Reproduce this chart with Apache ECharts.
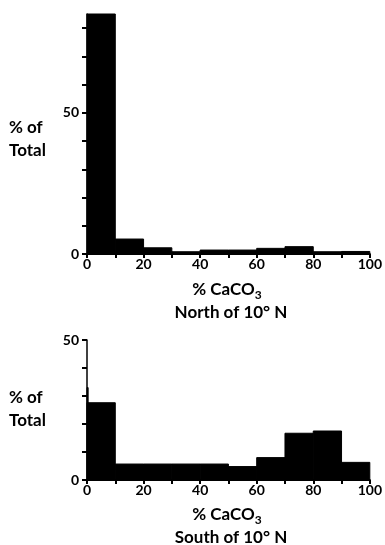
<!DOCTYPE html>
<html>
  <head>
    <meta charset="utf-8">
    <title>CaCO3 histograms</title>
    <style>
    html,body,#chart {
      margin: 0;
      padding: 0;
      width: 385px;
      height: 545px;
      background: #fff;
    }
    </style>
  </head>
  <body>
    <div id="chart"></div>
    <script src="https://cdn.jsdelivr.net/npm/echarts@6/dist/echarts.min.js"></script>
    <script type="text/javascript">
    // bin edges (% CaCO3) and % of total per bin
    var binStart = [0, 10, 20, 30, 40, 50, 60, 70, 80, 90]
    var binEnd = [10, 20, 30, 40, 50, 60, 70, 80, 90, 100]
    var northValues = [85, 5.3, 2.2, 0.8, 1.4, 1.4, 2.0, 2.6, 0.8, 0.9]
    var southValues = [27.6, 5.7, 5.7, 5.7, 5.7, 4.8, 8.0, 16.7, 17.5, 6.3]
    // thin spike right at 0 in the southern plot
    var southSpike = [[0, 0.4, 33]]

    var xTickLabels = [0, 20, 40, 60, 80, 100]
    var yTickLabels = [0, 50]
    var yTicksNorth = [0, 10, 20, 30, 40, 50, 60, 70, 80]
    var yTicksSouth = [0, 10, 20, 30, 40, 50]

    var font = 'Lato'

    function bins(starts, ends, vals) {
        var out = []
        for (var i = 0; i < vals.length; i++) out.push([starts[i], ends[i], vals[i]])
        return out
    }

    function renderBin(params, api) {
        var p0 = api.coord([api.value(0), api.value(2)])
        var p1 = api.coord([api.value(1), 0])
        return {
            type: 'rect',
            shape: { x: p0[0], y: p0[1], width: p1[0] - p0[0], height: p1[1] - p0[1] },
            style: { fill: '#000', stroke: '#000', lineWidth: 1 }
        }
    }

    function xAxis(idx) {
        return {
            type: 'value', gridIndex: idx, min: 0, max: 100, interval: 10,
            axisLine: { show: true, lineStyle: { color: '#000', width: 2 } },
            axisTick: { show: true, length: 4, lineStyle: { color: '#000', width: 2 } },
            axisLabel: {
                color: '#000', fontFamily: font, fontWeight: 'bold', fontSize: 14, margin: 3,
                formatter: function (v) { return xTickLabels.indexOf(v) >= 0 ? String(v) : '' }
            },
            splitLine: { show: false }
        }
    }

    function yAxis(idx, max, ticks) {
        return {
            type: 'value', gridIndex: idx, min: 0, max: max, interval: 10,
            axisLine: { show: true, lineStyle: { color: '#000', width: 1.5 } },
            axisTick: { show: true, length: 5, lineStyle: { color: '#000', width: 2 },
                customValues: ticks },
            axisLabel: {
                color: '#000', fontFamily: font, fontWeight: 'bold', fontSize: 14, margin: 8,
                customValues: yTickLabels
            },
            splitLine: { show: false }
        }
    }

    function caption(y, line2) {
        return [{
            type: 'text', x: 227, y: y,
            style: {
                text: '{a|% CaCO}{s|3}', align: 'center', verticalAlign: 'middle',
                rich: {
                    a: { fontFamily: font, fontWeight: 'bold', fontSize: 17, fill: '#000' },
                    s: { fontFamily: font, fontWeight: 'bold', fontSize: 12, fill: '#000', padding: [10, 0, 0, 0] }
                }
            }
        }, {
            type: 'text', x: 231, y: y + 23,
            style: {
                text: line2, align: 'center', verticalAlign: 'middle',
                fontFamily: font, fontWeight: 'bold', fontSize: 17, fill: '#000'
            }
        }]
    }

    function yName(y) {
        return {
            type: 'text', x: 9, y: y,
            style: {
                text: '% of\nTotal', verticalAlign: 'middle', fontFamily: font, fontWeight: 'bold',
                fontSize: 17, lineHeight: 23, fill: '#000'
            }
        }
    }

    var chart = echarts.init(document.getElementById('chart'))
    chart.setOption({
        animation: false,
        backgroundColor: '#fff',
        grid: [
            { left: 87, top: 14, width: 283, height: 240 },
            { left: 87, top: 340, width: 283, height: 140 }
        ],
        xAxis: [xAxis(0), xAxis(1)],
        yAxis: [yAxis(0, 85, yTicksNorth), yAxis(1, 50, yTicksSouth)],
        series: [
            { type: 'custom', xAxisIndex: 0, yAxisIndex: 0, renderItem: renderBin,
              data: bins(binStart, binEnd, northValues) },
            { type: 'custom', xAxisIndex: 1, yAxisIndex: 1, renderItem: renderBin,
              data: bins(binStart, binEnd, southValues).concat(southSpike) }
        ],
        graphic: [yName(139), yName(409)]
            .concat(caption(290, 'North of 10° N'))
            .concat(caption(515, 'South of 10° N'))
    })
    </script>
  </body>
</html>
